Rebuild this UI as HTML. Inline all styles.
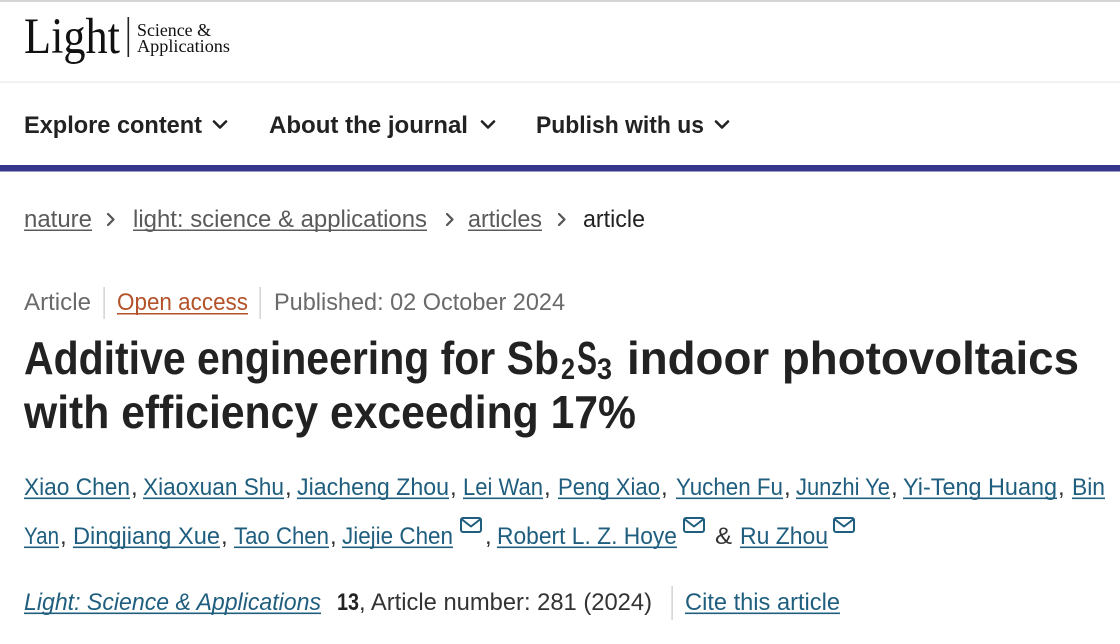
<!DOCTYPE html>
<html>
<head>
<meta charset="utf-8">
<style>
html,body{margin:0;padding:0;background:#fff;}
svg{display:block;}
text{font-family:"Liberation Sans",Arial,sans-serif;}
.serif{font-family:"Liberation Serif","Times New Roman",serif;}
.nav{font-size:24px;font-weight:bold;fill:#222;}
.bc{font-size:24px;fill:#5a5a5a;}
.meta{font-size:24px;fill:#6a6a6a;}
.title{font-size:46px;font-weight:bold;fill:#222;}
.sub{font-size:30px;font-weight:bold;fill:#222;}
.au{font-size:24px;fill:#1f5e7e;}
.plain{font-size:24px;fill:#333;}
</style>
</head>
<body>
<svg width="1120" height="644" viewBox="0 0 1120 644" xmlns="http://www.w3.org/2000/svg">
<rect width="1120" height="644" fill="#fff"/>
<rect x="0" y="0" width="1120" height="2" fill="#d6d6d6"/>

<!-- Logo -->
<text class="serif" x="24" y="53" font-size="51" fill="#111" textLength="96" lengthAdjust="spacingAndGlyphs">Light</text>
<rect x="127.5" y="17" width="1.6" height="40" fill="#222"/>
<text class="serif" x="137" y="36" font-size="18" fill="#111" textLength="74" lengthAdjust="spacingAndGlyphs">Science &amp;</text>
<text class="serif" x="137" y="52" font-size="18" fill="#111" textLength="93" lengthAdjust="spacingAndGlyphs">Applications</text>

<rect x="0" y="81.5" width="1120" height="1" fill="#e6e6e6"/>

<!-- Nav -->
<text class="nav" x="24" y="133" textLength="178" lengthAdjust="spacingAndGlyphs">Explore content</text>
<polyline points="214,121.5 220,127.5 226,121.5" fill="none" stroke="#222" stroke-width="2.6" stroke-linecap="round" stroke-linejoin="round"/>
<text class="nav" x="269" y="133" textLength="199" lengthAdjust="spacingAndGlyphs">About the journal</text>
<polyline points="482,121.5 488,127.5 494,121.5" fill="none" stroke="#222" stroke-width="2.6" stroke-linecap="round" stroke-linejoin="round"/>
<text class="nav" x="536" y="133" textLength="168" lengthAdjust="spacingAndGlyphs">Publish with us</text>
<polyline points="716,121.5 722,127.5 728,121.5" fill="none" stroke="#222" stroke-width="2.6" stroke-linecap="round" stroke-linejoin="round"/>

<rect x="0" y="165" width="1120" height="6.5" fill="#37368f"/>

<!-- Breadcrumb -->
<text class="bc" x="24" y="227" textLength="68" lengthAdjust="spacingAndGlyphs">nature</text>
<rect x="24" y="229.5" width="68" height="1.5" fill="#5a5a5a"/>
<polyline points="108,214 113.5,219.5 108,225" fill="none" stroke="#555" stroke-width="2.2" stroke-linecap="round" stroke-linejoin="round"/>
<text class="bc" x="133" y="227" textLength="294" lengthAdjust="spacingAndGlyphs">light: science &amp; applications</text>
<rect x="133" y="229.5" width="294" height="1.5" fill="#5a5a5a"/>
<polyline points="447,214 452.5,219.5 447,225" fill="none" stroke="#555" stroke-width="2.2" stroke-linecap="round" stroke-linejoin="round"/>
<text class="bc" x="468" y="227" textLength="74" lengthAdjust="spacingAndGlyphs">articles</text>
<rect x="468" y="229.5" width="74" height="1.5" fill="#5a5a5a"/>
<polyline points="559,214 564.5,219.5 559,225" fill="none" stroke="#555" stroke-width="2.2" stroke-linecap="round" stroke-linejoin="round"/>
<text class="bc" x="583" y="227" style="fill:#222" textLength="62" lengthAdjust="spacingAndGlyphs">article</text>

<!-- Meta -->
<text class="meta" x="24" y="310" textLength="67" lengthAdjust="spacingAndGlyphs">Article</text>
<rect x="103.5" y="287" width="1.2" height="32" fill="#c8c8c8"/>
<text class="meta" x="117" y="310" style="fill:#b4532a" textLength="131" lengthAdjust="spacingAndGlyphs">Open access</text>
<rect x="117" y="313" width="131" height="1.5" fill="#b4532a"/>
<rect x="259.5" y="287" width="1.2" height="32" fill="#c8c8c8"/>
<text class="meta" x="274" y="310" textLength="291" lengthAdjust="spacingAndGlyphs">Published: 02 October 2024</text>

<!-- Title -->
<text class="title" x="24" y="374" textLength="535" lengthAdjust="spacingAndGlyphs">Additive engineering for Sb</text>
<text class="sub" x="561" y="379" textLength="14" lengthAdjust="spacingAndGlyphs">2</text>
<text class="title" x="577" y="374" textLength="20" lengthAdjust="spacingAndGlyphs">S</text>
<text class="sub" x="597" y="379" textLength="15" lengthAdjust="spacingAndGlyphs">3</text>
<text class="title" x="627" y="374" textLength="452" lengthAdjust="spacingAndGlyphs">indoor photovoltaics</text>
<text class="title" x="24" y="428" textLength="612" lengthAdjust="spacingAndGlyphs">with efficiency exceeding 17%</text>

<!-- Authors line 1 -->
<g>
<text class="au" x="24" y="495" textLength="106" lengthAdjust="spacingAndGlyphs">Xiao Chen</text>
<rect x="24" y="497.5" width="106" height="1.6" fill="#1f5e7e"/>
<text class="plain" x="131" y="495">,</text>
<text class="au" x="143" y="495" textLength="141" lengthAdjust="spacingAndGlyphs">Xiaoxuan Shu</text>
<rect x="143" y="497.5" width="141" height="1.6" fill="#1f5e7e"/>
<text class="plain" x="285" y="495">,</text>
<text class="au" x="297" y="495" textLength="152" lengthAdjust="spacingAndGlyphs">Jiacheng Zhou</text>
<rect x="297" y="497.5" width="152" height="1.6" fill="#1f5e7e"/>
<text class="plain" x="450" y="495">,</text>
<text class="au" x="463" y="495" textLength="80" lengthAdjust="spacingAndGlyphs">Lei Wan</text>
<rect x="463" y="497.5" width="80" height="1.6" fill="#1f5e7e"/>
<text class="plain" x="544" y="495">,</text>
<text class="au" x="558" y="495" textLength="102" lengthAdjust="spacingAndGlyphs">Peng Xiao</text>
<rect x="558" y="497.5" width="102" height="1.6" fill="#1f5e7e"/>
<text class="plain" x="661" y="495">,</text>
<text class="au" x="676" y="495" textLength="107" lengthAdjust="spacingAndGlyphs">Yuchen Fu</text>
<rect x="676" y="497.5" width="107" height="1.6" fill="#1f5e7e"/>
<text class="plain" x="784" y="495">,</text>
<text class="au" x="796" y="495" textLength="94" lengthAdjust="spacingAndGlyphs">Junzhi Ye</text>
<rect x="796" y="497.5" width="94" height="1.6" fill="#1f5e7e"/>
<text class="plain" x="891" y="495">,</text>
<text class="au" x="903" y="495" textLength="154" lengthAdjust="spacingAndGlyphs">Yi-Teng Huang</text>
<rect x="903" y="497.5" width="154" height="1.6" fill="#1f5e7e"/>
<text class="plain" x="1058" y="495">,</text>
<text class="au" x="1072" y="495" textLength="33" lengthAdjust="spacingAndGlyphs">Bin</text>
<rect x="1072" y="497.5" width="33" height="1.6" fill="#1f5e7e"/>
</g>

<!-- Authors line 2 -->
<g>
<text class="au" x="24" y="544" textLength="35" lengthAdjust="spacingAndGlyphs">Yan</text>
<rect x="24" y="546.5" width="35" height="1.6" fill="#1f5e7e"/>
<text class="plain" x="60" y="544">,</text>
<text class="au" x="73" y="544" textLength="147" lengthAdjust="spacingAndGlyphs">Dingjiang Xue</text>
<rect x="73" y="546.5" width="147" height="1.6" fill="#1f5e7e"/>
<text class="plain" x="221" y="544">,</text>
<text class="au" x="234" y="544" textLength="95" lengthAdjust="spacingAndGlyphs">Tao Chen</text>
<rect x="234" y="546.5" width="95" height="1.6" fill="#1f5e7e"/>
<text class="plain" x="330" y="544">,</text>
<text class="au" x="342" y="544" textLength="111" lengthAdjust="spacingAndGlyphs">Jiejie Chen</text>
<rect x="342" y="546.5" width="111" height="1.6" fill="#1f5e7e"/>
<g fill="none" stroke="#1f5e7e" stroke-width="2" stroke-linejoin="round" stroke-linecap="round">
<rect x="461" y="518" width="20" height="14" rx="2"/>
<polyline points="462,519.5 471,526.5 480,519.5"/>
</g>
<text class="plain" x="485" y="544">,</text>
<text class="au" x="497" y="544" textLength="180" lengthAdjust="spacingAndGlyphs">Robert L. Z. Hoye</text>
<rect x="497" y="546.5" width="180" height="1.6" fill="#1f5e7e"/>
<g fill="none" stroke="#1f5e7e" stroke-width="2" stroke-linejoin="round" stroke-linecap="round">
<rect x="684" y="518" width="20" height="14" rx="2"/>
<polyline points="685,519.5 694,526.5 703,519.5"/>
</g>
<text class="plain" x="715" y="544" textLength="17" lengthAdjust="spacingAndGlyphs">&amp;</text>
<text class="au" x="740" y="544" textLength="88" lengthAdjust="spacingAndGlyphs">Ru Zhou</text>
<rect x="740" y="546.5" width="88" height="1.6" fill="#1f5e7e"/>
<g fill="none" stroke="#1f5e7e" stroke-width="2" stroke-linejoin="round" stroke-linecap="round">
<rect x="834" y="518" width="20" height="14" rx="2"/>
<polyline points="835,519.5 844,526.5 853,519.5"/>
</g>
</g>

<!-- Journal line -->
<text class="au" x="24" y="610" font-style="italic" textLength="297" lengthAdjust="spacingAndGlyphs">Light: Science &amp; Applications</text>
<rect x="24" y="612.5" width="297" height="1.6" fill="#1f5e7e"/>
<text class="plain" x="337" y="610" font-weight="bold" style="fill:#222" textLength="22" lengthAdjust="spacingAndGlyphs">13</text>
<text class="plain" x="359" y="610" textLength="293" lengthAdjust="spacingAndGlyphs">, Article number: 281 (2024)</text>
<rect x="671.5" y="586" width="1.2" height="34" fill="#c8c8c8"/>
<text class="au" x="685" y="610" textLength="155" lengthAdjust="spacingAndGlyphs">Cite this article</text>
<rect x="685" y="612.5" width="155" height="1.6" fill="#1f5e7e"/>
</svg>
</body>
</html>
